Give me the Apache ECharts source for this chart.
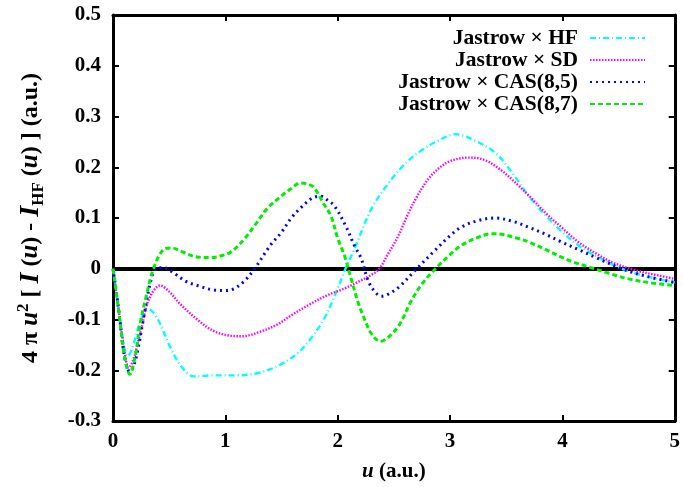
<!DOCTYPE html>
<html>
<head>
<meta charset="utf-8">
<script src="https://cdn.jsdelivr.net/npm/echarts@6/dist/echarts.min.js"></script>
<style>html,body{margin:0;padding:0;background:#fff}#c{width:683px;height:487px}</style>
</head>
<body>
<div id="c"></div>
<script>
// u (a.u.) values and 4πu²[I(u)-I_HF(u)] for each wavefunction
var uHF = [0,0.05,0.1,0.13,0.18,0.25,0.32,0.4,0.5,0.6,0.72,0.9,1.1,1.26,1.4,1.52,1.64,1.76,1.88,1.97,2.06,2.15,2.3,2.45,2.6,2.75,2.9,3.05,3.2,3.4,3.55,3.7,3.85,4.0,4.15,4.3,4.53,4.75,5.0];
var vHF = [0,-0.08,-0.155,-0.173,-0.15,-0.1,-0.08,-0.1,-0.15,-0.19,-0.212,-0.21,-0.21,-0.207,-0.198,-0.185,-0.167,-0.138,-0.098,-0.055,-0.005,0.04,0.118,0.168,0.207,0.234,0.253,0.265,0.255,0.229,0.19,0.143,0.105,0.072,0.045,0.025,0,-0.015,-0.027];

var uSD = [0,0.05,0.1,0.14,0.18,0.25,0.32,0.42,0.5,0.6,0.75,0.9,1.05,1.15,1.3,1.46,1.6,1.76,1.91,2.06,2.18,2.3,2.37,2.45,2.54,2.62,2.7,2.8,2.9,3.0,3.16,3.3,3.45,3.58,3.72,3.85,4.0,4.14,4.3,4.44,4.65,4.85,5.0];
var vSD = [0,-0.08,-0.16,-0.195,-0.18,-0.12,-0.06,-0.033,-0.045,-0.07,-0.1,-0.123,-0.132,-0.133,-0.125,-0.11,-0.09,-0.069,-0.052,-0.039,-0.026,-0.012,0,0.03,0.065,0.105,0.14,0.175,0.198,0.212,0.219,0.215,0.195,0.17,0.14,0.11,0.08,0.053,0.03,0.013,-0.003,-0.013,-0.02];

var uCAS85 = [0,0.05,0.1,0.15,0.2,0.27,0.33,0.38,0.45,0.55,0.65,0.75,0.9,1.0,1.08,1.17,1.26,1.4,1.5,1.58,1.68,1.78,1.85,1.91,1.97,2.07,2.15,2.21,2.27,2.33,2.39,2.45,2.55,2.69,2.86,3.0,3.1,3.25,3.4,3.55,3.7,3.85,3.99,4.15,4.29,4.53,4.75,5.0];
var vCAS85 = [0,-0.08,-0.17,-0.203,-0.18,-0.1,-0.03,0,0.002,-0.01,-0.025,-0.033,-0.042,-0.043,-0.039,-0.024,0,0.046,0.072,0.098,0.122,0.14,0.143,0.135,0.124,0.085,0.045,0.02,-0.023,-0.045,-0.054,-0.05,-0.035,-0.003,0.035,0.065,0.082,0.095,0.1,0.094,0.082,0.068,0.053,0.037,0.023,0,-0.015,-0.027];

var uCAS87 = [0,0.05,0.1,0.15,0.2,0.24,0.3,0.36,0.45,0.52,0.62,0.75,0.87,0.97,1.05,1.17,1.27,1.37,1.48,1.58,1.67,1.73,1.79,1.87,1.94,2.0,2.06,2.12,2.18,2.24,2.3,2.38,2.45,2.55,2.65,2.75,2.87,3.0,3.1,3.25,3.37,3.48,3.6,3.7,3.85,3.99,4.1,4.23,4.4,4.59,4.8,5.0];
var vCAS87 = [0,-0.08,-0.17,-0.208,-0.17,-0.11,-0.05,0,0.038,0.041,0.033,0.023,0.022,0.026,0.033,0.059,0.088,0.118,0.14,0.157,0.169,0.167,0.16,0.13,0.104,0.06,0.026,-0.02,-0.065,-0.1,-0.128,-0.143,-0.135,-0.11,-0.065,-0.03,0,0.028,0.046,0.062,0.069,0.067,0.06,0.053,0.038,0.023,0.013,0.004,-0.008,-0.02,-0.028,-0.033];

var names = ['Jastrow \u00d7 HF','Jastrow \u00d7 SD','Jastrow \u00d7 CAS(8,5)','Jastrow \u00d7 CAS(8,7)'];
var xTicks = [0,1,2,3,4,5];
var yTicks = [-0.3,-0.2,-0.1,0,0.1,0.2,0.3,0.4,0.5];

function pairs(u,v){ return u.map(function(x,i){return [x,v[i]];}); }

var FONT = 'Liberation Serif';
var FS = 21;

var chart = echarts.init(document.getElementById('c'), null, {renderer:'canvas'});

function mkSeries(name, u, v, color, type, width){
  return {
    name: name, type:'line', data: pairs(u,v), smooth: 0.35, showSymbol:false, symbol:'none',
    xAxisIndex:0, yAxisIndex:0,
    lineStyle:{color:color, width:width, type:type},
    itemStyle:{color:color},
    z: 3
  };
}

var s1 = mkSeries(names[0], uHF, vHF, '#00ffff', [6,3,1,3], 2.4);
var s2 = mkSeries(names[1], uSD, vSD, '#ff00ff', [1.5,1.5], 2.4);
var s3 = mkSeries(names[2], uCAS85, vCAS85, '#0000ff', [2,4], 3);
var s4 = mkSeries(names[3], uCAS87, vCAS87, '#00ee00', [5,3], 3);
s1.markLine = {
  silent:true, symbol:'none', label:{show:false},
  lineStyle:{color:'#000', width:4, type:'solid'},
  data:[{yAxis:0}], z:2, animation:false
};

var axisLbl = {fontFamily:FONT, fontWeight:'bold', fontSize:FS, color:'#000'};

var option = {
  animation:false,
  backgroundColor:'#fff',
  grid:{left:113, right:6, top:15, bottom:64},
  legend:{
    data:names, orient:'vertical', right:32, top:22, align:'right',
    itemWidth:55, itemHeight:12, itemGap:0,
    itemStyle:{color:'rgba(0,0,0,0)', borderColor:'rgba(0,0,0,0)', borderWidth:0},
    textStyle:{fontFamily:FONT, fontWeight:'bold', fontSize:21.5, color:'#000', lineHeight:21, padding:[0,7,0,0]}
  },
  xAxis:[{
    type:'value', min:0, max:5, interval:1, position:'bottom',
    axisLine:{show:true, onZero:false, lineStyle:{color:'#000', width:3}},
    axisTick:{show:true, inside:true, length:6, lineStyle:{color:'#000', width:2}},
    axisLabel:Object.assign({margin:10, formatter:function(v){return xTicks.indexOf(v)>=0? String(v):'';}}, axisLbl),
    splitLine:{show:false},
    name:'{i|u} (a.u.)', nameLocation:'middle', nameGap:40,
    nameTextStyle:{fontFamily:FONT, fontWeight:'bold', fontSize:FS, color:'#000',
      rich:{i:{fontFamily:FONT, fontWeight:'bold', fontStyle:'italic', fontSize:FS, color:'#000'}}}
  },{
    type:'value', min:0, max:5, interval:1, position:'top',
    axisLine:{show:true, onZero:false, lineStyle:{color:'#000', width:3}},
    axisTick:{show:true, inside:true, length:6, lineStyle:{color:'#000', width:2}},
    axisLabel:{show:false}, splitLine:{show:false}
  }],
  yAxis:[{
    type:'value', min:-0.3, max:0.5, interval:0.1, position:'left',
    axisLine:{show:true, onZero:false, lineStyle:{color:'#000', width:3}},
    axisTick:{show:true, inside:true, length:6, lineStyle:{color:'#000', width:2}},
    axisLabel:Object.assign({margin:12, formatter:function(v){
      var r = Math.round(v*10)/10; return r===0?'0':r.toFixed(1);}}, axisLbl),
    splitLine:{show:false},
    name:'4 \u03c0 {i|u}{sup|2} [ {I|I} ({i|u}) - {I|I}{sub|HF} ({i|u}) ] (a.u.)',
    nameLocation:'middle', nameRotate:90, nameGap:66,
    nameTextStyle:{fontFamily:FONT, fontWeight:'bold', fontSize:24, color:'#000', lineHeight:32,
      rich:{
        i:{fontFamily:FONT, fontWeight:'bold', fontStyle:'italic', fontSize:25, color:'#000', lineHeight:32},
        I:{fontFamily:FONT, fontWeight:'bold', fontStyle:'italic', fontSize:28, color:'#000', lineHeight:32},
        sup:{fontFamily:FONT, fontWeight:'bold', fontSize:17, color:'#000', verticalAlign:'top', lineHeight:32, padding:[0,0,12,0]},
        sub:{fontFamily:FONT, fontWeight:'bold', fontSize:17, color:'#000', verticalAlign:'bottom', lineHeight:32, padding:[10,0,0,0]}
      }}
  },{
    type:'value', min:-0.3, max:0.5, interval:0.1, position:'right',
    axisLine:{show:true, onZero:false, lineStyle:{color:'#000', width:3}},
    axisTick:{show:true, inside:true, length:6, lineStyle:{color:'#000', width:2}},
    axisLabel:{show:false}, splitLine:{show:false}
  }],
  series:[s1,s2,s3,s4]
};
chart.setOption(option);
</script>
</body>
</html>
